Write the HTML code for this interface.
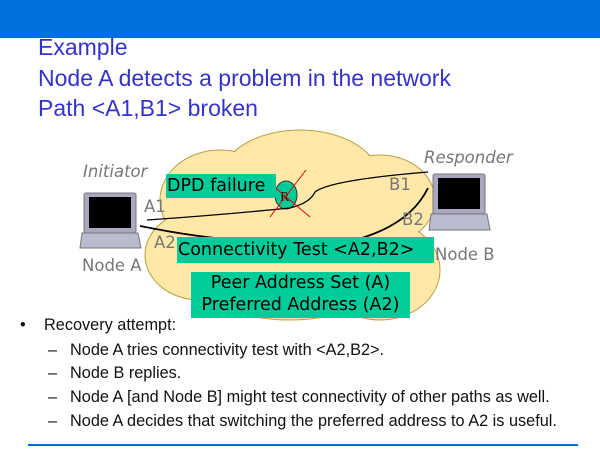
<!DOCTYPE html>
<html><head><style>
body{margin:0;width:600px;height:450px;overflow:hidden;background:#fff;font-family:"Liberation Sans",sans-serif;position:relative}
.t{position:absolute;left:38px;color:#3333CC;font-size:23px;line-height:28px}
.g{position:absolute;background:#00CC99;color:#000;font-family:"DejaVu Sans",sans-serif;font-size:17.5px}
.l{position:absolute;color:#777;font-family:"DejaVu Sans",sans-serif;font-size:16.5px}
.b{position:absolute;font-size:16.3px;color:#111}
</style></head><body>
<div style="position:absolute;left:0;top:0;width:600px;height:38px;background:#0070E0"></div>
<div class="t" style="top:33px">Example</div>
<div class="t" style="top:64px">Node A detects a problem in the network</div>
<div class="t" style="top:94px">Path &lt;A1,B1&gt; broken</div>
<svg style="position:absolute;left:0;top:0" width="600" height="450">
<g fill="#FFE8A8" stroke="#B8A040" stroke-width="1">
<ellipse cx="300" cy="180" rx="80" ry="50"/>
<ellipse cx="220" cy="200" rx="60" ry="50"/>
<ellipse cx="380" cy="200" rx="55" ry="45"/>
<ellipse cx="200" cy="255" rx="55" ry="45"/>
<ellipse cx="290" cy="260" rx="110" ry="60"/>
<ellipse cx="380" cy="270" rx="60" ry="50"/>
</g>
<g fill="#FFE8A8">
<ellipse cx="300" cy="180" rx="79" ry="49"/>
<ellipse cx="220" cy="200" rx="59" ry="49"/>
<ellipse cx="380" cy="200" rx="54" ry="44"/>
<ellipse cx="200" cy="255" rx="54" ry="44"/>
<ellipse cx="290" cy="260" rx="109" ry="59"/>
<ellipse cx="380" cy="270" rx="59" ry="49"/>
</g>
<ellipse cx="286" cy="195" rx="11" ry="14" fill="#00CC99" stroke="#333"/>
<text x="280" y="201" font-size="14" font-family="Liberation Serif">R</text>
<path d="M147 220 Q220 215 290 208 Q310 203 315 192 Q330 180 428 172" fill="none" stroke="#000" stroke-width="1.3"/>
<path d="M140 226 Q200 238 240 240 M355 240 Q410 225 428 188" fill="none" stroke="#000" stroke-width="1.8"/>
<line x1="306" y1="170" x2="270" y2="217" stroke="#E00" stroke-width="1"/>
<line x1="272" y1="185" x2="310" y2="217" stroke="#E00" stroke-width="1"/>
<g>
<rect x="84" y="193" width="52" height="40" rx="2" fill="#AAA8C0" stroke="#777"/>
<rect x="89" y="197" width="42" height="31" fill="#000"/>
<path d="M82 233 L138 233 L141 248 L80 248 Z" fill="#BBBBD0" stroke="#777"/>
</g>
<g>
<rect x="433" y="174" width="52" height="40" rx="2" fill="#AAA8C0" stroke="#777"/>
<rect x="438" y="178" width="42" height="31" fill="#000"/>
<path d="M431 214 L487 214 L490 230 L429 230 Z" fill="#BBBBD0" stroke="#777"/>
</g>
<line x1="28" y1="445" x2="578" y2="445" stroke="#0070E0" stroke-width="2"/>
</svg>
<div class="l" style="left:83px;top:162px;font-style:italic">Initiator</div>
<div class="l" style="left:424px;top:148px;font-style:italic">Responder</div>
<div class="l" style="left:144px;top:197px">A1</div>
<div class="l" style="left:154px;top:233px">A2</div>
<div class="l" style="left:389px;top:175px">B1</div>
<div class="l" style="left:402px;top:210px">B2</div>
<div class="l" style="left:82px;top:256px">Node A</div>
<div class="l" style="left:435px;top:245px">Node B</div>
<div class="g" style="left:166px;top:174px;width:109px;height:24px;line-height:24px;padding-left:1px;white-space:nowrap">DPD failure</div>
<div class="g" style="left:177px;top:237px;width:256px;height:26px;line-height:26px;padding-left:1px;white-space:nowrap">Connectivity Test &lt;A2,B2&gt;</div>
<div class="g" style="left:191px;top:272px;width:219px;height:46px;line-height:22px;text-align:center;white-space:nowrap">Peer Address Set (A)<br>Preferred Address (A2)</div>
<div class="b" style="left:20px;top:316px">•</div>
<div class="b" style="left:44px;top:316px">Recovery attempt:</div>
<div class="b" style="left:48px;top:341px">–</div><div class="b" style="left:70px;top:341px">Node A tries connectivity test with &lt;A2,B2&gt;.</div>
<div class="b" style="left:48px;top:364px">–</div><div class="b" style="left:70px;top:364px">Node B replies.</div>
<div class="b" style="left:48px;top:388px">–</div><div class="b" style="left:70px;top:388px">Node A [and Node B] might test connectivity of other paths as well.</div>
<div class="b" style="left:48px;top:412px">–</div><div class="b" style="left:70px;top:412px">Node A decides that switching the preferred address to A2 is useful.</div>
</body></html>
